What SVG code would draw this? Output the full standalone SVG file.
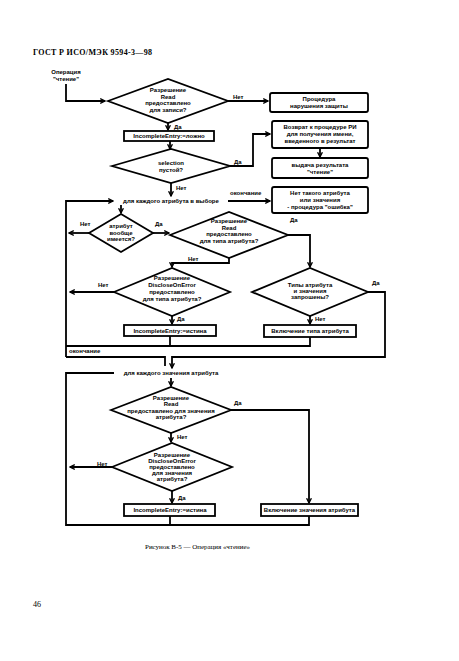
<svg xmlns="http://www.w3.org/2000/svg" width="459" height="661" viewBox="0 0 459 661">
<style>
.t{font-family:"Liberation Sans",Arial,sans-serif;font-weight:bold;font-size:6px;fill:#000;text-anchor:middle}
.l{font-family:"Liberation Sans",Arial,sans-serif;font-weight:bold;font-size:6px;fill:#000}
.s{font-family:"Liberation Serif","Times New Roman",serif;fill:#000}
.sh{fill:#fff;stroke:#000;stroke-width:1.8}
.c{fill:none;stroke:#000;stroke-width:1.8}
</style>
<defs>
<marker id="a" viewBox="0 0 10 10" refX="9" refY="5" markerWidth="6" markerHeight="6" markerUnits="userSpaceOnUse" orient="auto">
<path d="M1,1 L9,5 L1,9" fill="none" stroke="#000" stroke-width="2.2"/>
</marker>
</defs>
<rect width="459" height="661" fill="#fff"/>
<text class="s" x="33" y="55" font-size="8" font-weight="bold" textLength="119">ГОСТ Р ИСО/МЭК 9594-3—98</text>
<text class="s" x="145" y="549" font-size="7" textLength="105">Рисунок В-5 — Операция «чтение»</text>
<text class="s" x="33" y="607" font-size="8">46</text>

<g id="connectors">
<path class="c" d="M66,84 V101 H105" marker-end="url(#a)"/>
<path class="c" d="M228,101 H268" marker-end="url(#a)"/>
<path class="c" d="M168,123 V130" marker-end="url(#a)"/>
<path class="c" d="M170,141 V149" marker-end="url(#a)"/>
<path class="c" d="M230,166 H253 V134 H270" marker-end="url(#a)"/>
<path class="c" d="M320,148 V157" marker-end="url(#a)"/>
<path class="c" d="M171,183 V196" marker-end="url(#a)"/>
<path class="c" d="M228,201 H270" marker-end="url(#a)"/>
<path class="c" d="M66,357 V201 H113" marker-end="url(#a)"/>
<path class="c" d="M310,337 V346 H66"/>
<path class="c" d="M170,336 V346"/>
<path class="c" d="M66,357 H165 V366"/>
<path class="c" d="M368,292 H385 V357 H172 V368" marker-end="url(#a)"/>
<path class="c" d="M121,205 V213" marker-end="url(#a)"/>
<path class="c" d="M91,233 H69" marker-end="url(#a)"/>
<path class="c" d="M151,233 H169" marker-end="url(#a)"/>
<path class="c" d="M288,235 H310 V267" marker-end="url(#a)"/>
<path class="c" d="M229,258 V263 H172 V267" marker-end="url(#a)"/>
<path class="c" d="M114,292 H70" marker-end="url(#a)"/>
<path class="c" d="M172,316 V324" marker-end="url(#a)"/>
<path class="c" d="M310,316 V324" marker-end="url(#a)"/>
<path class="c" d="M309,516 V525 H66 V373 H114"/>
<path class="c" d="M170,516 V525"/>
<path class="c" d="M171,378 V386" marker-end="url(#a)"/>
<path class="c" d="M231,410 H309 V503" marker-end="url(#a)"/>
<path class="c" d="M171,433 V442" marker-end="url(#a)"/>
<path class="c" d="M112,467 H70" marker-end="url(#a)"/>
<path class="c" d="M172,491 V503" marker-end="url(#a)"/>
</g>

<g id="labels">
<text class="l" x="233" y="99">Нет</text>
<text class="l" x="174" y="129">Да</text>
<text class="l" x="234" y="164">Да</text>
<text class="l" x="176" y="190">Нет</text>
<text class="l" x="230" y="195">окончание</text>
<text class="l" x="80" y="226">Нет</text>
<text class="l" x="155" y="226">Да</text>
<text class="l" x="290" y="222">Да</text>
<text class="l" x="188" y="261">Нет</text>
<text class="l" x="98" y="287">Нет</text>
<text class="l" x="177" y="321">Да</text>
<text class="l" x="372" y="285">Да</text>
<text class="l" x="315" y="321">Нет</text>
<text class="l" x="69" y="353">окончание</text>
<text class="l" x="234" y="405">Да</text>
<text class="l" x="177" y="439">Нет</text>
<text class="l" x="97" y="466">Нет</text>
<text class="l" x="178" y="500">Да</text>
</g>

<g id="start">
<text class="t" x="66" y="74">Операция</text>
<text class="t" x="66" y="81">"чтение"</text>
</g>

<g id="d1">
<polygon class="sh" points="108,101 168,79 228,101 168,123"/>
<text class="t" x="168" y="92">Разрешение</text>
<text class="t" x="168" y="98.5">Read</text>
<text class="t" x="168" y="105">предоставлено</text>
<text class="t" x="168" y="111.5">для записи?</text>
</g>

<g id="b-security">
<rect class="sh" x="270" y="93" width="98" height="19" rx="2"/>
<text class="t" x="319" y="101">Процедура</text>
<text class="t" x="319" y="108">нарушения защиты</text>
</g>

<g id="b-ie1">
<rect class="sh" x="124" y="131" width="90" height="10"/>
<text class="t" x="169" y="138.2">IncompleteEntry:=ложно</text>
</g>

<g id="d2">
<polygon class="sh" points="112,166 171,149 230,166 171,183"/>
<text class="t" x="171" y="165">selection</text>
<text class="t" x="171" y="172">пустой?</text>
</g>

<g id="b-return">
<rect class="sh" x="272" y="121" width="96" height="27" rx="2"/>
<text class="t" x="320" y="129">Возврат к процедуре РИ</text>
<text class="t" x="320" y="136">для получения имени,</text>
<text class="t" x="320" y="143">введенного в результат</text>
</g>

<g id="b-result">
<rect class="sh" x="272" y="158" width="96" height="20" rx="2"/>
<text class="t" x="320" y="166.5">выдача результата</text>
<text class="t" x="320" y="173.5">"чтение"</text>
</g>

<g id="loop1">
<text class="t" x="171" y="203">для каждого атрибута в выборе</text>
</g>

<g id="b-nosuch">
<rect class="sh" x="272" y="187" width="96" height="26" rx="2"/>
<text class="t" x="320" y="195">Нет такого атрибута</text>
<text class="t" x="320" y="202">или значения</text>
<text class="t" x="320" y="209">- процедура "ошибка"</text>
</g>

<g id="d-present">
<polygon class="sh" points="89,233 121,214 153,233 121,252"/>
<text class="t" x="121" y="228">атрибут</text>
<text class="t" x="121" y="234.5">вообще</text>
<text class="t" x="121" y="241">имеется?</text>
</g>

<g id="d3">
<polygon class="sh" points="170,235 229,212 288,235 229,258"/>
<text class="t" x="229" y="223">Разрешение</text>
<text class="t" x="229" y="229.5">Read</text>
<text class="t" x="229" y="236">предоставлено</text>
<text class="t" x="229" y="242.5">для типа атрибута?</text>
</g>

<g id="d4">
<polygon class="sh" points="114,292 172,268 230,292 172,316"/>
<text class="t" x="172" y="280">Разрешение</text>
<text class="t" x="172" y="287">DiscloseOnError</text>
<text class="t" x="172" y="294">предоставлено</text>
<text class="t" x="172" y="301">для типа атрибута?</text>
</g>

<g id="d5">
<polygon class="sh" points="252,292 310,268 368,292 310,316"/>
<text class="t" x="310" y="287">Типы атрибута</text>
<text class="t" x="310" y="293">и значения</text>
<text class="t" x="310" y="299">запрошены?</text>
</g>

<g id="b-ie2">
<rect class="sh" x="124" y="325" width="92" height="11"/>
<text class="t" x="170" y="332.8">IncompleteEntry:=истина</text>
</g>

<g id="b-type">
<rect class="sh" x="264" y="325" width="92" height="12"/>
<text class="t" x="310" y="333.2">Включение типа атрибута</text>
</g>

<g id="loop2">
<text class="t" x="171" y="375">для каждого значения атрибута</text>
</g>

<g id="d6">
<polygon class="sh" points="111,410 171,387 231,410 171,433"/>
<text class="t" x="171" y="400">Разрешение</text>
<text class="t" x="171" y="406">Read</text>
<text class="t" x="171" y="412.5">предоставлено для значения</text>
<text class="t" x="171" y="419">атрибута?</text>
</g>

<g id="d7">
<polygon class="sh" points="112,467 172,443 232,467 172,491"/>
<text class="t" x="172" y="457">Разрешение</text>
<text class="t" x="172" y="463">DiscloseOnError</text>
<text class="t" x="172" y="469">предоставлено</text>
<text class="t" x="172" y="475">для значения</text>
<text class="t" x="172" y="481">атрибута?</text>
</g>

<g id="b-ie3">
<rect class="sh" x="124" y="504" width="91" height="12"/>
<text class="t" x="170" y="512.2">IncompleteEntry:=истина</text>
</g>

<g id="b-value">
<rect class="sh" x="261" y="504" width="97" height="12"/>
<text class="t" x="309.5" y="512.2">Включение значения атрибута</text>
</g>
</svg>
